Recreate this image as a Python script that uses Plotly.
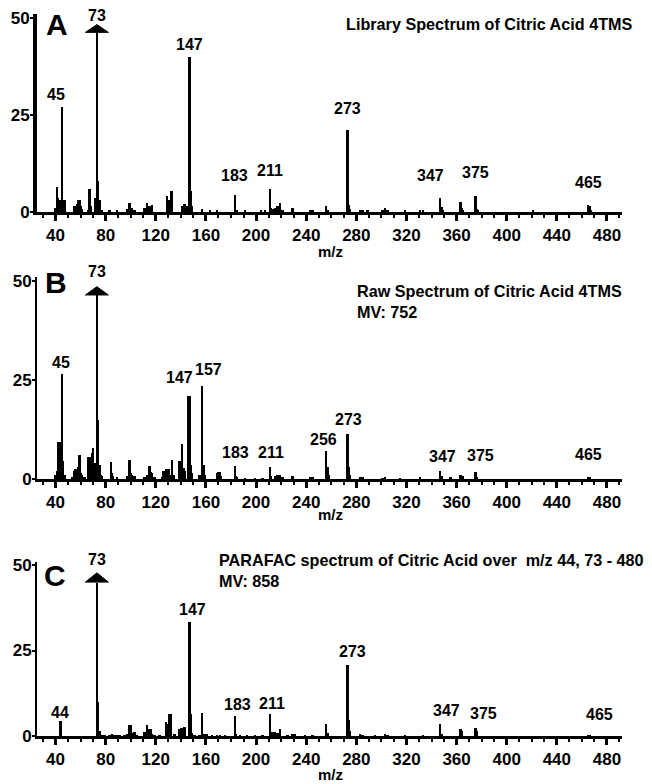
import plotly.graph_objects as go

# ---- data (m/z, relative intensity %) ----
a_mz = [40, 41, 42, 43, 44, 45, 46, 47, 55, 57,
        58, 59, 60, 61, 66, 67, 68, 72, 73, 74,
        75, 77, 83, 89, 97, 99, 100, 101, 103, 111,
        113, 115, 117, 129, 130, 131, 132, 133, 141, 143,
        145, 147, 148, 149, 157, 163, 169, 183, 184, 185,
        191, 204, 207, 211, 212, 213, 215, 217, 219, 221,
        229, 243, 245, 256, 257, 273, 274, 275, 283, 285,
        289, 301, 303, 305, 319, 331, 333, 347, 348, 349,
        363, 364, 365, 375, 376, 377, 421, 465, 466, 467]
a_int = [1.0, 6.5, 3.5, 3.0, 1.5, 27, 3.0, 3.0, 1.5, 2.0,
         3.0, 3.0, 1.5, 0.8, 0.6, 6.0, 1.5, 3.5, 100, 8.0,
         3.0, 0.6, 0.5, 0.4, 0.8, 2.2, 1.0, 1.0, 0.6, 1.0,
         2.2, 1.5, 1.8, 4.0, 3.0, 3.0, 5.5, 5.5, 1.5, 2.0,
         1.5, 40, 5.5, 1.5, 0.8, 0.4, 0.6, 4.3, 0.6, 0.5,
         0.4, 0.5, 0.6, 6.0, 1.0, 0.8, 1.0, 1.5, 2.4, 0.5,
         1.0, 0.4, 0.5, 1.6, 0.4, 21, 1.8, 0.8, 0.4, 0.5,
         0.4, 0.4, 1.0, 0.4, 0.3, 0.4, 0.4, 3.5, 1.2, 0.5,
         2.5, 1.0, 0.4, 4.0, 0.8, 0.4, 0.4, 1.8, 1.5, 0.5]

b_mz = [40, 41, 42, 43, 44, 45, 46, 47, 53, 55,
        56, 57, 58, 59, 60, 61, 63, 66, 67, 68,
        69, 70, 71, 72, 73, 74, 75, 76, 77, 84,
        85, 86, 89, 97, 99, 100, 101, 103, 111, 113,
        115, 116, 117, 119, 125, 126, 128, 129, 130, 131,
        133, 134, 139, 140, 141, 142, 143, 146, 147, 148,
        149, 155, 157, 158, 159, 169, 170, 171, 172, 183,
        184, 185, 191, 199, 205, 211, 212, 215, 217, 219,
        221, 229, 243, 245, 256, 257, 258, 273, 274, 275,
        283, 285, 301, 303, 315, 331, 347, 348, 355, 363,
        365, 375, 376, 465, 466]
b_int = [1.0, 2.0, 9.5, 9.5, 9.5, 26.5, 4.5, 1.0, 0.6, 2.2,
         2.5, 2.5, 3.0, 6.0, 1.5, 1.0, 0.5, 5.5, 5.5, 5.0,
         6.5, 8.0, 4.0, 3.0, 100, 15, 3.5, 1.0, 0.8, 4.3,
         1.5, 0.8, 0.5, 0.8, 4.8, 1.5, 1.2, 0.8, 0.6, 1.0,
         3.3, 1.8, 1.5, 0.5, 0.6, 2.0, 2.5, 2.6, 2.6, 1.2,
         4.8, 1.0, 4.5, 3.0, 9.0, 2.8, 2.0, 21, 21, 3.5,
         1.5, 1.0, 23.5, 3.5, 1.2, 1.5, 1.8, 1.8, 0.8, 3.3,
         0.8, 0.5, 0.4, 0.4, 0.4, 3.2, 0.8, 0.8, 1.0, 1.2,
         0.5, 0.8, 0.5, 0.5, 7.2, 3.0, 1.0, 11.5, 3.0, 1.0,
         0.5, 0.5, 0.4, 0.5, 0.3, 0.5, 2.2, 0.8, 0.5, 1.0,
         0.8, 1.8, 0.5, 0.5, 0.5]

c_mz = [44, 73, 74, 75, 77, 79, 83, 85, 87, 89,
        91, 95, 97, 99, 100, 101, 103, 105, 111, 113,
        115, 116, 117, 119, 123, 128, 129, 130, 131, 132,
        135, 139, 140, 141, 143, 147, 148, 149, 151, 155,
        157, 159, 161, 165, 169, 171, 175, 183, 184, 187,
        193, 199, 205, 211, 212, 213, 215, 217, 219, 225,
        229, 231, 239, 245, 256, 257, 273, 274, 275, 283,
        285, 295, 303, 305, 319, 333, 347, 348, 363, 364,
        375, 376, 465, 466]
c_int = [4.5, 100, 10, 1.5, 0.4, 0.3, 0.5, 0.6, 0.5, 0.4,
         0.4, 0.5, 0.6, 3.3, 3.3, 1.0, 1.2, 0.5, 1.2, 3.3,
         2.2, 2.2, 0.8, 0.5, 0.5, 4.3, 3.5, 3.5, 6.5, 6.5,
         0.6, 2.3, 2.5, 2.5, 2.8, 33.5, 6.5, 1.0, 0.5, 0.5,
         6.8, 0.8, 0.6, 0.4, 0.5, 0.4, 0.4, 6.0, 0.8, 0.4,
         0.4, 0.5, 0.4, 6.5, 1.3, 1.3, 1.3, 1.0, 2.3, 0.5,
         0.8, 0.6, 0.4, 0.5, 3.5, 1.0, 21, 4.8, 1.5, 0.8,
         0.5, 0.4, 0.8, 0.5, 0.3, 0.3, 3.7, 0.8, 2.2, 1.5,
         2.5, 1.5, 0.5, 0.4]

x_ticks = list(range(40, 481, 40))
y_ticks = [0, 25, 50]

# labelled peaks: (m/z, xshift px, yshift px)
a_labels = [(45, -6, 2), (147, 0, 2), (183, 0, 9), (211, 0, 8), (273, 0, 12),
            (347, -10, 12), (375, 0, 13), (465, 0, 12)]
b_labels = [(45, -1, 1), (147, -10, 8), (157, 6, 6), (183, 1, 3), (211, 1, 3),
            (256, -3, 0), (273, 1, 3), (347, 2, 3), (375, 5, 6), (465, 0, 12)]
c_labels = [(44, -1, -2), (147, 3, 1), (183, 3, 0), (211, 2, 0), (273, 5, 2),
            (347, 6, 2), (375, 8, 3), (465, 11, 9)]

titles = ["Library Spectrum of Citric Acid 4TMS",
          "Raw Spectrum of Citric Acid 4TMS<br>MV: 752",
          "PARAFAC spectrum of Citric Acid over  m/z 44, 73 - 480<br>MV: 858"]
letters = ["A", "B", "C"]

W, H = 652, 784
OFF = 8  # page body margin of the html page
FONT = "Arial, Liberation Sans, sans-serif"
XTICKFONT = "Liberation Sans Narrow, Arial Narrow, Liberation Sans, Arial"

# panel geometry in screen px: baseline y, px per unit, arrow base/tip, axis line width
panels = [
    dict(mz=a_mz, it=a_int, labels=a_labels, base=212, scale=3.88, cap=46.3, tip=48.3, lw=4,
         title_xy=(635, 24, "right"), letter_xy=(57, 24), mz_y=251, arrow_lbl=-1),
    dict(mz=b_mz, it=b_int, labels=b_labels, base=479, scale=3.966, cap=46.4, tip=48.5, lw=2,
         title_xy=(355, 301, "left"), letter_xy=(56, 283), mz_y=514, arrow_lbl=5),
    dict(mz=c_mz, it=c_int, labels=c_labels, base=736, scale=3.42, cap=45.0, tip=47.7, lw=2,
         title_xy=(217, 570, "left"), letter_xy=(55, 575), mz_y=774, arrow_lbl=3),
]

X0, X1 = 37, 622
XR = [25.2, 492]
YTOP = 51
xpx = (X1 - X0) / (XR[1] - XR[0])


def b(s):
    return "<b>" + str(s) + "</b>"


def px(x):
    return (x - OFF) / W


def py(y):
    return 1 - (y - OFF) / H


fig = go.Figure()
annotations = []
shapes = []
layout = {}

for i, p in enumerate(panels):
    n = "" if i == 0 else str(i + 1)
    xa, ya = "x" + n, "y" + n
    top_px = p["base"] - YTOP * p["scale"]
    layout["xaxis" + n] = dict(
        domain=[px(X0), px(X1)], range=XR, anchor=ya,
        showline=True, linecolor="black", linewidth=2.5, showgrid=False, zeroline=False,
        tickvals=x_ticks, ticktext=[b(t) for t in x_ticks],
        ticks="outside", ticklen=6, tickwidth=2.5, tickcolor="black",
        tickfont=dict(family=XTICKFONT, size=17, color="black"),
        minor=dict(dtick=10, tick0=0, ticks="outside", ticklen=3, tickwidth=1.5,
                   tickcolor="black"),
    )
    layout["yaxis" + n] = dict(
        domain=[py(p["base"]), py(top_px)], range=[0, YTOP], anchor=xa,
        showline=True, linecolor="black", linewidth=p["lw"], showgrid=False, zeroline=False,
        tickvals=y_ticks, ticktext=[b(t) for t in y_ticks],
        ticks="outside", ticklen=3, tickwidth=2, tickcolor="black",
        ticklabelstandoff=-3,
        tickfont=dict(family=FONT, size=17, color="black"),
    )

    # bars; the off-scale base peak is drawn up to the arrow
    shown = [min(v, p["cap"]) for v in p["it"]]
    fig.add_trace(go.Bar(x=p["mz"], y=shown, width=1.9, marker=dict(color="black", line_width=0),
                         xaxis=xa, yaxis=ya, showlegend=False, cliponaxis=False))

    # arrow on the base peak (m/z 73)
    bp = p["mz"][p["it"].index(max(p["it"]))]
    hw = 11.5 / xpx
    shapes.append(dict(type="path", xref=xa, yref=ya,
                       path=f"M {bp - hw},{p['cap']} L {bp + hw},{p['cap']} L {bp},{p['tip']} Z",
                       fillcolor="black", line=dict(color="black", width=1)))
    annotations.append(dict(x=bp, y=p["tip"], xref=xa, yref=ya, text=b(bp), showarrow=False,
                            yanchor="bottom", yshift=p["arrow_lbl"],
                            font=dict(family=FONT, size=16, color="black")))

    for mz, dx, dy in p["labels"]:
        v = p["it"][p["mz"].index(mz)]
        annotations.append(dict(x=mz, y=v, xref=xa, yref=ya, text=b(mz), showarrow=False,
                                yanchor="bottom", xshift=dx, yshift=dy,
                                font=dict(family=FONT, size=16, color="black")))

    tx, ty, tal = p["title_xy"]
    annotations.append(dict(x=px(tx), y=py(ty), xref="paper", yref="paper",
                            text="<br>".join(b(s) for s in titles[i].split("<br>")),
                            showarrow=False, xanchor=tal, yanchor="middle", align="left",
                            font=dict(family=FONT, size=16.2, color="black")))
    lx, ly = p["letter_xy"]
    annotations.append(dict(x=px(lx), y=py(ly), xref="paper", yref="paper", text=b(letters[i]),
                            showarrow=False, xanchor="center", yanchor="middle",
                            font=dict(family=FONT, size=30, color="black")))
    annotations.append(dict(x=px(330), y=py(p["mz_y"]), xref="paper", yref="paper",
                            text=b("m/z"), showarrow=False, xanchor="center", yanchor="middle",
                            font=dict(family=FONT, size=15, color="black")))

# open triangle below the axis in panel A (molecular ion marker)
fig.add_trace(go.Scatter(x=[476.7], y=[-1.2], mode="markers", xaxis="x", yaxis="y",
                         marker=dict(symbol="triangle-up-open", size=11, color="black",
                                     line=dict(width=1.8, color="black")),
                         showlegend=False, cliponaxis=False))

fig.update_layout(**layout)
fig.update_layout(width=W, height=H, margin=dict(l=0, r=0, t=0, b=0, autoexpand=False),
                  paper_bgcolor="white", plot_bgcolor="white",
                  annotations=annotations, shapes=shapes, bargap=0)
fig.write_html("out.html")
